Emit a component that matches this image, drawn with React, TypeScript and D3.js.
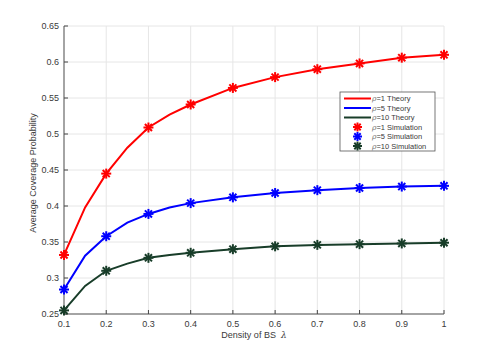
import React from 'react';
import * as d3 from 'd3';

const width = 491;
const height = 354;

// theory curve sample points (x = density of BS)
const lineX = [0.1, 0.15, 0.2, 0.25, 0.3, 0.35, 0.4, 0.5, 0.6, 0.7, 0.8, 0.9, 1.0];
const theory1 = [0.332, 0.398, 0.445, 0.481, 0.509, 0.527, 0.541, 0.564, 0.579, 0.590, 0.598, 0.606, 0.610];
const theory5 = [0.284, 0.331, 0.358, 0.377, 0.389, 0.398, 0.404, 0.412, 0.418, 0.422, 0.425, 0.427, 0.428];
const theory10 = [0.255, 0.289, 0.310, 0.320, 0.328, 0.332, 0.335, 0.340, 0.344, 0.346, 0.347, 0.348, 0.349];

// simulation markers
const simX = [0.1, 0.2, 0.3, 0.4, 0.5, 0.6, 0.7, 0.8, 0.9, 1.0];
const sim1 = [0.332, 0.445, 0.509, 0.541, 0.564, 0.579, 0.590, 0.598, 0.606, 0.610];
const sim5 = [0.284, 0.358, 0.389, 0.404, 0.412, 0.418, 0.422, 0.425, 0.427, 0.428];
const sim10 = [0.255, 0.310, 0.328, 0.335, 0.340, 0.344, 0.346, 0.347, 0.348, 0.349];

const xTicks = [0.1, 0.2, 0.3, 0.4, 0.5, 0.6, 0.7, 0.8, 0.9, 1];
const yTicks = [0.25, 0.3, 0.35, 0.4, 0.45, 0.5, 0.55, 0.6, 0.65];

const series = [
  { name: '=1', color: '#ff0000', theory: theory1, sim: sim1 },
  { name: '=5', color: '#0000ff', theory: theory5, sim: sim5 },
  { name: '=10', color: '#183d29', theory: theory10, sim: sim10 },
];

const font = '"Liberation Sans", Arial, sans-serif';
const axisColor = '#8a8a8a';
const textColor = '#3a3a3a';

const Star = ({ x, y, color, r = 5 }: { x: number; y: number; color: string; r?: number }) => {
  const d = r * 0.707;
  return (
    <g stroke={color} strokeWidth={2} strokeLinecap="butt">
      <line x1={x - r} y1={y} x2={x + r} y2={y} />
      <line x1={x} y1={y - r} x2={x} y2={y + r} />
      <line x1={x - d} y1={y - d} x2={x + d} y2={y + d} />
      <line x1={x - d} y1={y + d} x2={x + d} y2={y - d} />
    </g>
  );
};

const App = () => {
  const x = d3.scaleLinear().domain([0.1, 1]).range([64, 444]);
  const y = d3.scaleLinear().domain([0.25, 0.65]).range([314, 26]);

  const line = d3
    .line<number>()
    .x((_, i) => x(lineX[i]))
    .y((d) => y(d));

  const legX = 340;
  const legY = 92;
  const rowH = 9.5;

  return (
    <svg width={width} height={height} style={{ position: 'absolute', left: 0, top: 0 }}>
      <rect width={width} height={height} fill="#fff" />
      {/* grid */}
      <g stroke="#e6e6e6" strokeWidth={1}>
        {xTicks.map((t) => (
          <line key={'gx' + t} x1={x(t)} x2={x(t)} y1={y(0.65)} y2={y(0.25)} />
        ))}
        {yTicks.map((t) => (
          <line key={'gy' + t} x1={x(0.1)} x2={x(1)} y1={y(t)} y2={y(t)} />
        ))}
      </g>
      {/* axes */}
      <g stroke={axisColor} strokeWidth={1.5}>
        <line x1={x(0.1)} x2={x(0.1)} y1={y(0.65)} y2={y(0.25)} />
        <line x1={x(0.1)} x2={x(1)} y1={y(0.25)} y2={y(0.25)} />
      </g>
      <g stroke="#444" strokeWidth={1}>
        {xTicks.map((t) => (
          <line key={'tx' + t} x1={x(t)} x2={x(t)} y1={y(0.25)} y2={y(0.25) - 4} />
        ))}
        {yTicks.map((t) => (
          <line key={'ty' + t} x1={x(0.1)} x2={x(0.1) + 4} y1={y(t)} y2={y(t)} />
        ))}
      </g>
      <g fontFamily={font} fontSize={9} fill={textColor}>
        {xTicks.map((t) => (
          <text key={'lx' + t} x={x(t)} y={y(0.25) + 12.5} textAnchor="middle">
            {String(t)}
          </text>
        ))}
        {yTicks.map((t) => (
          <text key={'ly' + t} x={x(0.1) - 5} y={y(t) + 3.2} textAnchor="end">
            {String(t)}
          </text>
        ))}
        <text x={254} y={338} textAnchor="middle" fontSize={9}>
          Density of BS{'\u00a0\u00a0'}
          <tspan fontFamily="'DejaVu Serif', serif" fontStyle="italic">λ</tspan>
        </text>
        <text
          transform={`translate(36,${173}) rotate(-90)`}
          textAnchor="middle"
          fontSize={9}
        >
          Average Coverage Probability
        </text>
      </g>
      {/* curves */}
      {series.map((s) => (
        <g key={s.name}>
          <path d={line(s.theory) || ''} fill="none" stroke={s.color} strokeWidth={2} />
          {s.sim.map((v, i) => (
            <Star key={i} x={x(simX[i])} y={y(v)} color={s.color} />
          ))}
        </g>
      ))}
      {/* legend */}
      <g>
        <rect x={legX} y={legY} width={95} height={59} fill="#fff" stroke="#555" strokeWidth={0.8} />
        {series.map((s, i) => (
          <line
            key={'ll' + i}
            x1={legX + 4}
            x2={legX + 31}
            y1={legY + 6.5 + i * rowH}
            y2={legY + 6.5 + i * rowH}
            stroke={s.color}
            strokeWidth={2}
          />
        ))}
        {series.map((s, i) => (
          <Star key={'ls' + i} x={legX + 17.5} y={legY + 6.5 + (i + 3) * rowH} color={s.color} r={4.5} />
        ))}
        <g fontFamily={font} fontSize={7.5} fill={textColor}>
          {series.map((s, i) => (
            <text key={'lt' + i} x={legX + 32} y={legY + 9.2 + i * rowH}>
              <tspan fontFamily="'DejaVu Serif', serif" fontStyle="italic" fill="#777">ρ</tspan>
              {s.name} Theory
            </text>
          ))}
          {series.map((s, i) => (
            <text key={'lst' + i} x={legX + 32} y={legY + 9.2 + (i + 3) * rowH}>
              <tspan fontFamily="'DejaVu Serif', serif" fontStyle="italic" fill="#777">ρ</tspan>
              {s.name} Simulation
            </text>
          ))}
        </g>
      </g>
    </svg>
  );
};

export default App;
